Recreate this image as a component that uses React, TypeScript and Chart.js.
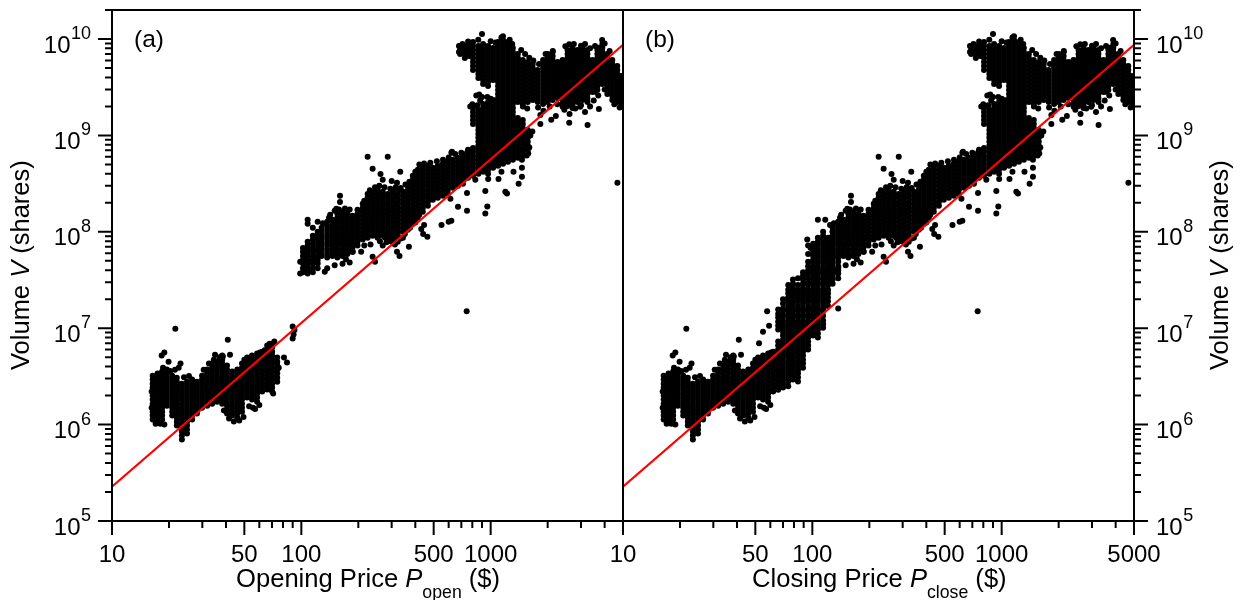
import React, { useEffect, useRef } from "react";
import { Chart, registerables } from "chart.js";

Chart.register(...registerables);

// Each column: [price ($), volumes in millions of shares...]
const lowCommon: number[][] = [
  [16.4, 1.13, 1.24, 1.36, 1.5, 1.65, 1.82, 2, 2.2, 2.42, 2.66, 2.93, 3.22],
  [17.4, 1.07, 1.18, 1.3, 1.43, 1.57, 1.73, 1.91, 2.1, 2.31, 2.54, 2.79, 3.07, 3.38],
  [18.4, 1.13, 1.24, 1.36, 1.5, 1.65, 1.82, 2, 2.2, 2.42, 2.66, 2.93, 3.22, 3.55],
  [19.5, 1.57, 1.73, 1.91, 2.1, 2.31, 2.54, 2.79, 3.07, 3.38, 3.72],
  [20.8, 1.24, 1.36, 1.5, 1.65, 1.82, 2, 2.2, 2.42, 2.66, 2.93, 3.22],
  [22, 0.98, 1.07, 1.18, 1.3, 1.43, 1.57, 1.73, 1.91, 2.1, 2.31, 2.54, 2.79, 3.07],
  [23.4, 0.7, 0.77, 0.85, 0.93, 1.02, 1.13, 1.24, 1.36, 1.5, 1.65, 1.82, 2, 2.2, 2.42, 2.66],
  [24.9, 0.81, 0.89, 0.98, 1.07, 1.18, 1.3, 1.43, 1.57, 1.73, 1.91, 2.1, 2.31, 2.54, 2.79],
  [26.5, 1.13, 1.24, 1.36, 1.5, 1.65, 1.82, 2, 2.2, 2.42, 2.66, 2.93],
  [28.1, 1.3, 1.43, 1.57, 1.73, 1.91, 2.1, 2.31, 2.54, 2.79],
  [29.9, 1.5, 1.65, 1.82, 2, 2.2, 2.42, 2.66, 2.93, 3.22],
  [31.8, 1.57, 1.73, 1.91, 2.1, 2.31, 2.54, 2.79, 3.07, 3.38, 3.72],
  [33.8, 1.65, 1.82, 2, 2.2, 2.42, 2.66, 2.93, 3.22, 3.55, 3.9, 4.3],
  [35.9, 1.73, 1.91, 2.1, 2.31, 2.54, 2.79, 3.07, 3.38, 3.72, 4.1, 4.5],
  [38.2, 1.65, 1.82, 2, 2.2, 2.42, 2.66, 2.93, 3.22, 3.55, 3.9, 4.3, 4.7, 5.2],
  [40.5, 1.3, 1.43, 1.57, 1.73, 1.91, 2.1, 2.31, 2.54, 2.79, 3.07, 3.38, 3.72, 4.1],
  [43.1, 1.24, 1.36, 1.5, 1.65, 1.82, 2, 2.2, 2.42, 2.66, 2.93, 3.22, 3.55],
  [45.9, 1.18, 1.3, 1.43, 1.57, 1.73, 1.91, 2.1, 2.31, 2.54, 2.79, 3.07, 3.38, 3.72],
  [48.6, 1.36, 1.5, 1.65, 1.82, 2, 2.2, 2.42, 2.66, 2.93, 3.22, 3.55, 3.9, 4.3],
  [51.7, 1.91, 2.1, 2.31, 2.54, 2.79, 3.07, 3.38, 3.72, 4.1, 4.5, 4.96],
  [54.9, 1.82, 2, 2.2, 2.42, 2.66, 2.93, 3.22, 3.55, 3.9, 4.3, 4.7, 5.2],
  [58.4, 1.73, 1.91, 2.1, 2.31, 2.54, 2.79, 3.07, 3.38, 3.72, 4.1, 4.5, 4.96, 5.45],
  [62.1, 2.2, 2.42, 2.66, 2.93, 3.22, 3.55, 3.9, 4.3, 4.7, 5.2, 5.7],
  [21.6, 9.9], [18.3, 5.2], [18.9, 5.6], [18.6, 3.9], [19.9, 4.5], [40.9, 7.6], [42, 5.3], [35, 5.3], [38.5, 5.1],
  [16.2, 1.5], [16.2, 2.2], [17, 1.02], [18, 1.02], [18.9, 1.0], [20.3, 3.6], [21.5, 3.7], [22.5, 3.9], [23, 4.3],
  [24, 3.1], [25.5, 3.2], [30.5, 3.7], [32.5, 4.3], [34.5, 4.7], [37, 5], [39, 1.4], [41.5, 1.16], [44, 1.08],
  [47, 1.1], [49.5, 1.2], [50, 4.7], [53, 1.55], [55.5, 1.5], [57, 1.45], [60, 1.6], [60.5, 5.6],
];

const openLowOnly: number[][] = [
  [66, 2.31, 2.54, 2.79, 3.07, 3.38, 3.72, 4.1, 4.5, 4.96, 5.45, 6, 6.6],
  [70.1, 2.2, 2.42, 2.66, 2.93, 3.22, 3.55, 3.9, 4.3, 4.7, 5.2, 5.7, 6.3, 6.9],
  [74.6, 2.79, 3.07, 3.38, 3.72, 4.1, 4.5, 4.96],
  [81, 4.96], [84, 4.4], [90, 10.4], [92, 9.6], [91, 8.6], [90, 7.8], [68, 6.9], [72, 7.3], [76, 3.9], [64, 5.9], [71, 2.1],
];

const openMidOnly: number[][] = [
  [98.6, 37, 49],
  [102, 38, 42, 47, 51, 56, 62, 68],
  [108, 37, 40, 44, 49, 54, 59, 65, 72, 79, 121, 133],
  [115, 38, 42, 47, 51, 56, 62, 68, 75, 83, 91, 110],
  [122, 42, 47, 51, 56, 62, 68, 75, 83, 91, 100, 127],
];

const closeCloud: number[][] = [
  [66, 2.3, 2.5, 2.8, 3.1, 3.4, 3.7, 4.1, 4.5, 5, 5.5, 6, 6.6, 7.3, 9.7, 10.6, 11.7, 12.9, 14, 15.6],
  [70, 2.42, 2.66, 2.93, 3.22, 3.55, 3.9, 4.3, 4.7, 5.2, 5.7, 6.3, 6.9, 7.6, 8.4, 9.2, 10.1, 11, 12, 13.5, 15, 16, 18, 20],
  [74.6, 2.5, 2.8, 3.1, 3.4, 3.7, 4.1, 4.5, 5, 5.5, 6, 6.6, 7.3, 8, 8.8, 9.7, 10.6, 11.7, 12.9, 14, 15.6, 17, 19, 21, 23, 25, 28],
  [79, 2.93, 3.22, 3.55, 3.9, 4.3, 4.7, 5.2, 5.7, 6.3, 6.9, 7.6, 8.4, 9.2, 10.1, 11, 12, 13.5, 15, 16, 18, 20, 22, 24, 26, 29, 32],
  [84, 2.8, 3.1, 3.4, 3.7, 4.1, 4.5, 5, 5.5, 6, 6.6, 7.3, 8, 8.8, 9.7, 10.6, 11.7, 12.9, 14, 15.6, 17, 19, 21, 23, 25, 28, 33],
  [89.3, 3.9, 4.3, 4.7, 5.2, 5.7, 6.3, 6.9, 7.6, 8.4, 9.2, 10.1, 11, 12, 13.5, 15, 16, 18, 20, 22, 24, 26, 29, 32, 35, 38],
  [95, 6, 6.6, 7.3, 8, 8.8, 9.7, 10.6, 11.7, 12.9, 14, 15.6, 17, 19, 21, 23, 25, 28, 30, 33, 37, 40, 44, 49, 59, 72],
  [101, 8.4, 9.2, 10.1, 11, 12, 13.5, 15, 16, 18, 20, 22, 24, 26, 29, 32, 35, 38, 42, 47, 51, 56, 62, 68, 75],
  [107, 8, 8.8, 9.7, 10.6, 11.7, 12.9, 14, 15.6, 17, 19, 21, 23, 25, 28, 30, 33, 37, 40, 44, 49, 54, 59, 65, 72, 79, 87],
  [114, 10.1, 11, 12, 13.5, 15, 16, 18, 20, 22, 24, 26, 29, 32, 35, 38, 42, 47, 51, 56, 62, 68, 75, 83, 91, 100],
  [121, 17, 19, 21, 23, 25, 28, 30, 33, 37, 40, 44, 49, 54, 59, 65, 72, 79, 87],
  [128, 29, 32, 35, 38, 42, 47, 51, 56, 62, 68, 75, 83, 91, 100],
  [137, 33, 37, 40, 44, 49, 54, 59, 65, 72, 79, 87, 95, 105, 115],
  [52.3, 7], [54.9, 9.2], [59.1, 10.6], [57.7, 15], [137, 16], [107, 133], [117, 133], [124, 118], [94, 83], [98, 68],
];

const midCommon: number[][] = [
  [128, 56, 62, 68, 75, 83, 91, 100, 110],
  [137, 54, 59, 65, 72, 79, 87, 95, 105, 115, 127],
  [146, 56, 62, 68, 75, 83, 91, 100, 110, 121, 133],
  [155, 54, 59, 65, 72, 79, 87, 95, 105, 115, 127, 140, 154],
  [165, 56, 62, 68, 75, 83, 91, 100, 110, 121, 133, 147, 161],
  [175, 59, 65, 72, 79, 87, 95, 105, 115, 127, 140, 154],
  [186, 62, 68, 75, 83, 91, 100, 110, 121, 133, 147],
  [198, 72, 79, 87, 95, 105, 115, 127, 140, 154, 169],
  [211, 83, 91, 100, 110, 121, 133, 147, 161, 177, 195],
  [224, 87, 95, 105, 115, 127, 140, 154, 169, 186, 204, 225, 247],
  [238, 91, 100, 110, 121, 133, 147, 161, 177, 195, 215, 236, 260],
  [253, 87, 95, 105, 115, 127, 140, 154, 169, 186, 204, 225, 247, 272],
  [269, 91, 100, 110, 121, 133, 147, 161, 177, 195, 215, 236, 260],
  [286, 87, 95, 105, 115, 127, 140, 154, 169, 186, 204, 225, 247],
  [304, 83, 91, 100, 110, 121, 133, 147, 161, 177, 195, 215, 236, 260],
  [323, 79, 87, 95, 105, 115, 127, 140, 154, 169, 186, 204, 225, 247, 272],
  [344, 100, 110, 121, 133, 147, 161, 177, 195, 215, 236, 260],
  [365, 105, 115, 127, 140, 154, 169, 186, 204, 225, 247, 272, 300],
  [388, 121, 133, 147, 161, 177, 195, 215, 236, 260, 286, 315, 346, 381],
  [412, 140, 154, 169, 186, 204, 225, 247, 272, 300, 330, 363, 400, 440],
  [438, 161, 177, 195, 215, 236, 260, 286, 315, 346, 381, 419, 461],
  [466, 186, 204, 225, 247, 272, 300, 330, 363, 400, 440, 484],
  [495, 215, 236, 260, 286, 315, 346, 381, 419, 461],
  [526, 225, 247, 272, 300, 330, 363, 400, 440, 484],
  [559, 236, 260, 286, 315, 346, 381, 419, 461, 507],
  [594, 247, 272, 300, 330, 363, 400, 440, 484, 532],
  [632, 286, 315, 346, 381, 419, 461, 507, 558],
  [672, 300, 330, 363, 400, 440, 484, 532, 585],
  [714, 315, 346, 381, 419, 461, 507, 558, 613],
  [759, 363, 400, 440, 484, 532, 585, 644, 708],
];

const highCommon: number[][] = [
  [690, 6994, 7695, 8466],
  [730, 6357, 6994, 7695, 8466],
  [770, 6664, 7331, 8065, 8873],
  [807, 381, 419, 461, 507, 558, 613, 675, 742, 1316, 1447, 1592, 1752, 1927, 4775, 5253, 5779, 6357, 6994, 7695, 8466, 9313],
  [861, 400, 440, 484, 532, 585, 644, 708, 779, 857, 943, 1037, 1141, 1255, 1381, 1519, 1671, 1838, 3945, 4340, 4775, 5253, 5779, 6357, 6994, 7695, 8466],
  [912, 419, 461, 507, 558, 613, 675, 742, 817, 898, 988, 1087, 1196, 1316, 1447, 1592, 1752, 1927, 2120, 3417, 3759, 4135, 4549, 5005, 5506, 6057, 6664, 7331, 8065, 8873],
  [969, 400, 440, 484, 532, 585, 644, 708, 779, 857, 943, 1037, 1141, 1255, 1381, 1519, 1671, 1838, 2023, 2225, 3259, 3586, 3945, 4340, 4775, 5253, 5779, 6357, 6994, 7695, 8466],
  [1030, 461, 507, 558, 613, 675, 742, 817, 898, 988, 1087, 1196, 1316, 1447, 1592, 1752, 1927, 2120, 2333, 3759, 4135, 4549, 5005, 5506, 6057, 6664, 7331, 8065],
  [1094, 484, 532, 585, 644, 708, 779, 857, 943, 1037, 1141, 1255, 1381, 1519, 1671, 1838, 2023, 2225, 2448, 2693, 2963, 3259, 3586, 3945, 4340, 4775, 5253, 5779, 6357, 6994, 7695, 8466, 9313],
  [1162, 507, 558, 613, 675, 742, 817, 898, 988, 1087, 1196, 1316, 1447, 1592, 1752, 1927, 2120, 2333, 2566, 2823, 3106, 3417, 3759, 4135, 4549, 5005, 5506, 6057, 6664, 7331, 8065, 8873, 9762, 10700],
  [1234, 532, 585, 644, 708, 779, 857, 943, 1037, 1141, 1255, 1381, 1519, 1671, 1838, 2023, 2225, 2448, 2693, 2963, 3259, 3586, 3945, 4340, 4775, 5253, 5779, 6357, 6994, 7695, 8466, 9313],
  [1310, 558, 613, 675, 742, 817, 898, 988, 1087, 1196, 1316, 1447, 1592, 1752, 1927, 2120, 2333, 2566, 2823, 3106, 3417, 3759, 4135, 4549, 5005, 5506, 6057, 6664, 7331, 8065],
  [1392, 585, 644, 708, 779, 857, 943, 1037, 1141, 1255, 1381, 1519, 2225, 2448, 2693, 2963, 3259, 3586, 3945, 4340, 4775, 5253, 5779, 6357, 6994],
  [1478, 613, 675, 742, 817, 898, 988, 1087, 1196, 1316, 1447, 2120, 2333, 2566, 2823, 3106, 3417, 3759, 4135, 4549, 5005, 5506, 6057],
  [1570, 708, 779, 857, 943, 1037, 1141, 2225, 2448, 2693, 2963, 3259, 3586, 3945, 4340, 4775, 5253, 5779],
  [1668, 2333, 2566, 2823, 3106, 3417, 3759, 4135, 4549, 5005, 5506],
  [1772, 2225, 2448, 2693, 2963, 3259, 3586, 3945, 4340, 4775],
  [1892, 2120, 2333, 2566, 2823, 3106, 3417, 3759, 4135, 4549, 5005, 5506, 6057],
  [2000, 2225, 2448, 2693, 2963, 3259, 3586, 3945, 4340, 4775, 5253, 5779, 6357, 6994],
  [2125, 2333, 2566, 2823, 3106, 3417, 3759, 4135, 4549, 5005, 5506, 6057, 6664, 7331],
  [2257, 2448, 2693, 2963, 3259, 3586, 3945, 4340, 4775, 5253, 5779],
  [2398, 2120, 2333, 2566, 2823, 3106, 3417, 3759, 4135, 4549, 5005, 5506, 6057],
  [2547, 2023, 2225, 2448, 2693, 2963, 3259, 3586, 3945, 4340, 4775, 5253, 5779, 6357, 6994, 7695],
  [2706, 1927, 2120, 2333, 2566, 2823, 3106, 3417, 3759, 4135, 4549, 5005, 5506, 6057, 6664, 7331, 8065],
  [2875, 2225, 2448, 2693, 2963, 3259, 3586, 3945, 4340, 4775, 5253, 5779, 6357, 6994, 7695],
  [3054, 2333, 2566, 2823, 3106, 3417, 3759, 4135, 4549, 5005, 5506, 6057, 6664, 7331, 8065],
  [3244, 2225, 2448, 2693, 2963, 3259, 3586, 3945, 4340, 4775, 5253, 5779, 6357, 6994, 7695],
  [3447, 2823, 3106, 3417, 3759, 4135, 4549, 5005, 5506, 6057],
  [3661, 2963, 3259, 3586, 3945, 4340, 4775, 5253, 5779, 6357, 6994, 7695],
  [3889, 3417, 3759, 4135, 4549, 5005, 5506, 6057, 6664, 7331, 8065, 8873],
  [4132, 2693, 2963, 3259, 3586, 3945, 4340, 4775, 5253, 5779, 6357, 6994],
  [4390, 2333, 2566, 2823, 3106, 3417, 3759, 4135, 4549, 5005, 5506, 6057],
  [4664, 2225, 2448, 2693, 2963, 3259, 3586, 3945, 4340, 4775, 5253],
  [4890, 2120, 2333, 2566, 2823, 3106, 3417, 3759, 4135],
];

const outliers: number[][] = [
  [224, 599], [286, 599], [238, 450], [262, 399], [333, 419], [269, 346], [300, 337], [320, 322], [393, 322],
  [160, 236], [160, 204], [153, 173], [142, 150], [238, 55], [245, 49], [133, 38.5], [137, 42], [165, 46.6],
  [207, 62], [187, 62], [269, 72], [320, 62], [330, 56], [370, 70], [277, 87], [344, 87], [463, 89], [445, 118],
  [430, 107], [440, 95], [550, 118], [600, 127], [620, 130], [613, 220], [672, 182], [750, 165], [750, 253],
  [937, 265], [937, 155], [960, 183], [1195, 260], [1220, 250], [747, 15], [1405, 315], [1463, 372], [1320, 419],
  [1463, 461], [1463, 558], [1100, 354], [1140, 419], [830, 346], [970, 354], [620, 660], [750, 660], [790, 680],
  [900, 11270], [1140, 10400], [3880, 9760], [680, 8470], [680, 7330], [3560, 8470], [2130, 7500], [4670, 322],
  [1830, 1316], [2600, 1350], [3250, 1280], [3730, 1880], [2090, 1450], [2210, 1590], [2610, 1670], [3150, 1750],
  [2400, 1980], [2970, 1980], [3560, 2830], [1830, 1630], [625, 675], [1480, 2000], [1560, 1900],
];

const fringe: number[][] = [
  [150, 45], [172, 52], [180, 48], [215, 72], [232, 74], [260, 80], [282, 78], [296, 80], [312, 74], [335, 85],
  [352, 95], [375, 110], [400, 125], [420, 150], [130, 123], [140, 140], [150, 165], [158, 170], [170, 175], [180, 170],
  [215, 210], [230, 270], [245, 290], [258, 300], [275, 290], [295, 280], [315, 290], [335, 285], [355, 310], [372, 330],
  [400, 420], [420, 500], [445, 510], [480, 520], [520, 540], [560, 560], [600, 590], [650, 640], [700, 660],
  [780, 2000], [800, 2100], [850, 2050], [880, 2300], [900, 2500], [840, 2600], [870, 2650], [960, 2500], [1000, 2400],
  [1620, 1000], [1660, 1100], [1600, 750], [1580, 650], [1550, 620], [710, 8900], [760, 9400], [860, 9800], [1000, 9500],
  [1060, 9200], [1260, 9800], [1300, 8900], [1450, 7700], [1520, 7000], [1600, 6400], [1680, 6000], [1800, 5500],
  [1950, 7000], [2480, 8400], [2600, 8800], [2750, 8900], [3000, 8500], [3150, 8900], [3350, 8000], [3700, 8100],
  [4000, 9000], [4250, 7500], [1780, 1950], [1900, 1800], [2050, 2000], [2250, 2100], [2450, 1850], [2800, 1900],
  [3000, 2050], [3350, 2000], [3500, 2300], [3700, 2600], [4000, 3000], [4500, 2100], [4800, 1950], [4950, 2000],
];

const fitPrices = [10, 5000];
const fitVolumes = [0.227, 8700];

const priceTicks = [10, 20, 30, 40, 50, 60, 70, 80, 90, 100, 200, 300, 400, 500, 600, 700, 800, 900, 1000, 2000, 3000, 4000, 5000];
const priceMajor = [10, 50, 100, 500, 1000, 5000];
const volumeDecades = [5, 6, 7, 8, 9, 10];
const volumeMinorFactors = [2, 3, 4, 5, 6, 7, 8, 9];

const FONT = '"Liberation Sans", Arial, sans-serif';

const toPoints = (cols: number[][]) =>
  cols.flatMap(([p, ...vs]) => vs.map((v) => ({ x: p, y: v * 1e6 })));

type Run = { t: string; size: number; italic?: boolean; dy?: number };

function drawRuns(ctx: CanvasRenderingContext2D, runs: Run[], x: number, y: number) {
  let cx = x;
  for (const r of runs) {
    ctx.font = `${r.italic ? "italic " : ""}${r.size}px ${FONT}`;
    ctx.fillText(r.t, cx, y + (r.dy || 0));
    cx += ctx.measureText(r.t).width;
  }
}

function makePanel(canvas: HTMLCanvasElement, side: "left" | "right") {
  const left = side === "left";
  const data = left
    ? [...lowCommon, ...openLowOnly, ...openMidOnly, ...midCommon, ...highCommon, ...outliers, ...fringe]
    : [...lowCommon, ...closeCloud, ...midCommon, ...highCommon, ...outliers, ...fringe];
  const xShown = left ? [10, 50, 100, 500, 1000] : priceMajor;
  const panelPlugin = {
    id: "panelDecor",
    afterDatasetsDraw(chart: any) {
      const { ctx, chartArea: a, scales } = chart;
      const xs = scales.x;
      const ys = scales.y;
      ctx.save();
      ctx.strokeStyle = "#000";
      ctx.fillStyle = "#000";
      ctx.lineWidth = 2;
      ctx.beginPath();
      ctx.moveTo(a.left, a.top);
      ctx.lineTo(a.right, a.top);
      ctx.moveTo(a.left, a.bottom);
      ctx.lineTo(a.right, a.bottom);
      ctx.moveTo(a.left, a.top - 1);
      ctx.lineTo(a.left, a.bottom + 1);
      ctx.moveTo(a.right, a.top - 1);
      ctx.lineTo(a.right, a.bottom + 1);
      ctx.stroke();
      ctx.beginPath();
      for (const v of priceTicks) {
        const px = xs.getPixelForValue(v);
        ctx.moveTo(px, a.bottom);
        ctx.lineTo(px, a.bottom + (priceMajor.includes(v) ? 14 : 7));
      }
      const dir = left ? -1 : 1;
      const edge = left ? a.left : a.right;
      for (const d of volumeDecades) {
        const py = ys.getPixelForValue(10 ** d);
        ctx.moveTo(edge, py);
        ctx.lineTo(edge + dir * 14, py);
        for (const f of volumeMinorFactors) {
          const val = f * 10 ** d;
          if (val > ys.max) continue;
          const my = ys.getPixelForValue(val);
          ctx.moveTo(edge, my);
          ctx.lineTo(edge + dir * 7, my);
        }
      }
      ctx.stroke();
      // y tick labels
      ctx.textBaseline = "alphabetic";
      for (const d of volumeDecades) {
        const py = ys.getPixelForValue(10 ** d);
        const exp = String(d);
        ctx.font = `18px ${FONT}`;
        const ew = ctx.measureText(exp).width;
        ctx.font = `24px ${FONT}`;
        const bw = ctx.measureText("10").width;
        const bx = left ? 90.5 - ew - bw : 1156;
        ctx.fillText("10", bx, py + 13.5);
        ctx.font = `18px ${FONT}`;
        ctx.fillText(exp, bx + bw + 0.5, py);
      }
      // panel tag
      ctx.font = `24.5px ${FONT}`;
      ctx.fillText(left ? "(a)" : "(b)", left ? 134 : 645, 47);
      // x title
      const sub = left ? "open" : "close";
      const head = left ? "Opening Price " : "Closing Price ";
      drawRuns(
        ctx,
        [
          { t: head, size: 25.6 },
          { t: "P", size: 25.6, italic: true },
          { t: sub, size: 17.7, dy: 11 },
          { t: " ($)", size: 25.6 },
        ],
        left ? 236 : 752,
        587,
      );
      // y title
      ctx.save();
      ctx.translate(left ? 29 : 1228, 370);
      ctx.rotate(-Math.PI / 2);
      drawRuns(
        ctx,
        [
          { t: "Volume ", size: 25.5 },
          { t: "V", size: 25.5, italic: true },
          { t: " (shares)", size: 25.5 },
        ],
        0,
        0,
      );
      ctx.restore();
      ctx.restore();
    },
  };

  return new Chart(canvas, {
    type: "scatter",
    data: {
      datasets: [
        {
          data: fitPrices.map((p, i) => ({ x: p, y: fitVolumes[i] * 1e6 })),
          showLine: true,
          borderColor: "#ff0000",
          borderWidth: 2,
          pointRadius: 0,
        },
        {
          data: toPoints(data),
          backgroundColor: "#000",
          borderWidth: 0,
          pointRadius: 3,
          pointHoverRadius: 3,
        },
      ],
    },
    options: {
      responsive: false,
      animation: false,
      events: [],
      layout: {
        padding: left
          ? { left: 0, top: 10, right: 618, bottom: 0 }
          : { left: 623, top: 10, right: 0, bottom: 0 },
      },
      plugins: { legend: { display: false }, tooltip: { enabled: false }, title: { display: false } },
      scales: {
        x: {
          type: "logarithmic",
          min: 10,
          max: 5000,
          grid: { display: false },
          border: { display: false },
          afterBuildTicks: (s: any) => {
            s.ticks = priceTicks.map((value) => ({ value }));
          },
          afterFit: (s: any) => {
            s.height = 79;
          },
          ticks: {
            autoSkip: false,
            maxRotation: 0,
            minRotation: 0,
            padding: 12,
            color: "#000",
            font: { family: FONT, size: 24 },
            callback: (v: any) => (xShown.includes(Number(v)) ? String(v) : ""),
          },
        },
        y: {
          type: "logarithmic",
          position: left ? "left" : "right",
          min: 1e5,
          max: 2e10,
          grid: { display: false },
          border: { display: false },
          ticks: { display: false },
          afterFit: (s: any) => {
            s.width = left ? 112 : 107;
          },
        },
      },
    },
    plugins: [panelPlugin],
  } as any);
}

export default function App() {
  const aRef = useRef<HTMLCanvasElement>(null);
  const bRef = useRef<HTMLCanvasElement>(null);
  useEffect(() => {
    const a = makePanel(aRef.current!, "left");
    const b = makePanel(bRef.current!, "right");
    return () => {
      a.destroy();
      b.destroy();
    };
  }, []);
  const style: React.CSSProperties = { position: "absolute", left: 0, top: 0, display: "block" };
  return (
    <div>
      <canvas ref={aRef} width={1241} height={600} style={style} />
      <canvas ref={bRef} width={1241} height={600} style={style} />
    </div>
  );
}
